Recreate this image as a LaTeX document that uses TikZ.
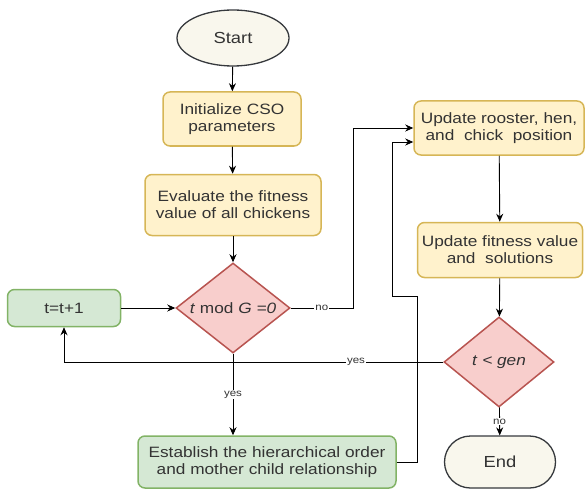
\documentclass[tikz,border=0pt]{standalone}
\usepackage{fontspec}
\setmainfont{Liberation Sans}[FakeStretch=1.15]
\usetikzlibrary{shapes.geometric, arrows.meta, positioning, calc}
\definecolor{termfill}{HTML}{F9F7ED}
\definecolor{termline}{HTML}{36393D}
\definecolor{procfill}{HTML}{FFF2CC}
\definecolor{procline}{HTML}{D6B656}
\definecolor{loopfill}{HTML}{D5E8D4}
\definecolor{loopline}{HTML}{82B366}
\definecolor{testfill}{HTML}{F8CECC}
\definecolor{testline}{HTML}{B85450}
\definecolor{inktext}{HTML}{333333}
\tikzset{
    boxtext/.style={text=inktext, font=\fontsize{15}{17}\selectfont, align=center, inner sep=1pt},
    termbox/.style={boxtext, draw=termline, fill=termfill, line width=1.3pt, font=\fontsize{16}{18}\selectfont},
    procbox/.style={boxtext, draw=procline, fill=procfill, line width=1.5pt, rounded corners=7pt},
    loopbox/.style={boxtext, draw=loopline, fill=loopfill, line width=1.5pt, rounded corners=7pt},
    testbox/.style={boxtext, diamond, aspect=1.6, inner sep=0pt, draw=testline, fill=testfill, line width=1.5pt, minimum width=114pt, minimum height=90pt},
    flow/.style={draw=black, line width=0.9pt, -{Stealth[length=8pt,width=7pt]}},
    edgelbl/.style={text=inktext, font=\fontsize{10}{11}\selectfont, fill=white, inner sep=1pt}
}
\begin{document}
\begin{tikzpicture}[x=1pt, y=-1pt]
        \useasboundingbox (0,0) rectangle (585,489);
        % left column
        \node[termbox, ellipse, minimum width=112pt, minimum height=56pt] (start) at (233,38) {Start};
        \node[procbox, minimum width=138pt, minimum height=54pt] (init) at (232,119) {Initialize CSO\\parameters};
        \node[procbox, minimum width=176pt, minimum height=61pt] (eval) at (233,205) {Evaluate the fitness\\value of all chickens};
        \node[testbox] (modtest) at (233,308) {\textit{t} mod \textit{G =0}};
        \node[loopbox, minimum width=113pt, minimum height=37pt] (incr) at (64,308) {t=t+1};
        \node[loopbox, minimum width=258pt, minimum height=52pt] (order) at (267,462) {Establish the hierarchical order\\and mother child relationship};
        % right column
        \node[procbox, minimum width=170pt, minimum height=54pt] (rooster) at (499,128) {Update rooster, hen,\\and~~chick~~position};
        \node[procbox, minimum width=165pt, minimum height=55pt] (fitness) at (500,250) {Update fitness value\\and~~solutions};
        \node[testbox, minimum width=110pt] (gentest) at (499,362) {\textit{t} \textit{< gen}};
        \node[termbox, rounded corners=26pt, minimum width=111pt, minimum height=52pt] (finish) at (500,462) {End};
        % turning points of the feedback line
        \coordinate (nobend) at (353,308);
        \coordinate (backlow) at (417,296);
        \coordinate (backhigh) at (392,296);

        \draw[flow] (start) -- (init);
        \draw[flow] (init) -- (eval);
        \draw[flow] (eval) -- (modtest);
        \draw[flow] (incr) -- (modtest);
        \draw[flow] (modtest.south) -- node[edgelbl, pos=0.5]{yes} (modtest.south |- order.north);
        \draw[flow] (modtest.east) -- node[edgelbl]{no} (nobend) |- (rooster.west);
        \draw[flow] (order.east) -| (backlow) -- (backhigh) |- ($(rooster.west)+(0,14)$);
        \draw[flow] (rooster) -- (fitness);
        \draw[flow] (fitness) -- (gentest);
        \draw[flow] (gentest.west) -| node[edgelbl, pos=0.115]{yes} (incr.south);
        \draw[flow] (gentest) -- node[edgelbl]{no} (finish);
    \end{tikzpicture}
\end{document}
